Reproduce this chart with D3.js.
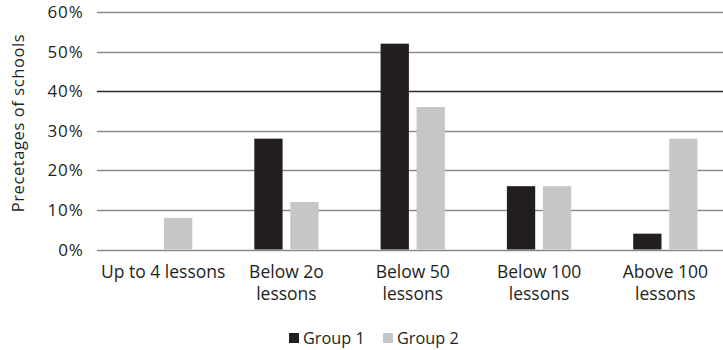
<!DOCTYPE html>
<html>
<head>
<meta charset="utf-8">
<script src="https://cdn.jsdelivr.net/npm/d3@7"></script>
<style>
  html, body { margin: 0; padding: 0; background: #fff; }
  svg { display: block; font-family: "Open Sans", sans-serif; }
</style>
</head>
<body>
<svg id="chart" width="723" height="350"></svg>
<script>
const categories = ["Up to 4 lessons", "Below 2o\nlessons", "Below 50\nlessons", "Below 100\nlessons", "Above 100\nlessons"];
const groups = ["Group 1", "Group 2"];
const group1 = [0, 28, 52, 16, 4];
const group2 = [8, 12, 36, 16, 28];
const yTicks = [0, 10, 20, 30, 40, 50, 60];
const yTitle = "Precetages of schools";

const colors = { "Group 1": "#231f20", "Group 2": "#c5c6c8" };
const textColor = "#231f20";

const svg = d3.select("#chart");

const y = d3.scaleLinear().domain([0, 60]).range([249.5, 12]);
const x0 = d3.scaleBand().domain(categories).range([97, 728.5]).padding(0);
const x1 = d3.scaleBand().domain(groups).range([31, 95.3]).paddingInner(0.214).paddingOuter(0);

// gridlines
svg.append("g").selectAll("line").data(yTicks).join("line")
  .attr("x1", 97).attr("x2", 723)
  .attr("y1", d => Math.round(y(d)) + 0.5).attr("y2", d => Math.round(y(d)) + 0.5)
  .attr("stroke", d => d === 40 ? "#2a2a2a" : "#8a8a8a")
  .attr("stroke-width", 1.3);

// y tick labels
svg.append("g").selectAll("text").data(yTicks).join("text")
  .attr("x", 83.5).attr("y", d => y(d))
  .attr("dy", "0.36em")
  .attr("text-anchor", "end")
  .attr("font-size", 17)
  .attr("letter-spacing", 0.8)
  .attr("fill", textColor)
  .text(d => d + "%");

// bars
const data = categories.map((c, i) => ({ cat: c, values: [
  { g: "Group 1", v: group1[i] }, { g: "Group 2", v: group2[i] } ] }));

const cg = svg.append("g").selectAll("g").data(data).join("g")
  .attr("transform", d => `translate(${x0(d.cat)},0)`);
cg.selectAll("rect").data(d => d.values.filter(e => e.v > 0)).join("rect")
  .attr("x", d => x1(d.g))
  .attr("width", x1.bandwidth())
  .attr("y", d => y(d.v))
  .attr("height", d => y(0) - y(d.v))
  .attr("fill", d => colors[d.g]);

// x labels
const xl = svg.append("g").selectAll("text").data(categories).join("text")
  .attr("x", (d, i) => x0(d) + x0.bandwidth() / 2 + (i === 0 ? 3 : 0))
  .attr("y", 278)
  .attr("text-anchor", "middle")
  .attr("font-size", 17.5)
  .attr("fill", textColor);
xl.selectAll("tspan").data(d => d.split("\n")).join("tspan")
  .attr("x", function () { return d3.select(this.parentNode).attr("x"); })
  .attr("dy", (d, i) => i === 0 ? 0 : 22)
  .text(d => d);

// y title
svg.append("text")
  .attr("transform", "translate(24,123) rotate(-90)")
  .attr("text-anchor", "middle")
  .attr("font-size", 16.5)
  .attr("letter-spacing", 0.6)
  .attr("fill", textColor)
  .text(yTitle);

// legend
const legendX = [289, 383];
const lg = svg.append("g").selectAll("g").data(groups).join("g")
  .attr("transform", (d, i) => `translate(${legendX[i]},0)`);
lg.append("rect").attr("x", 0).attr("y", 333).attr("width", 10).attr("height", 10)
  .attr("fill", d => colors[d]);
lg.append("text").attr("x", 14).attr("y", 343.5)
  .attr("font-size", 16.3).attr("fill", textColor).text(d => d);
</script>
</body>
</html>
